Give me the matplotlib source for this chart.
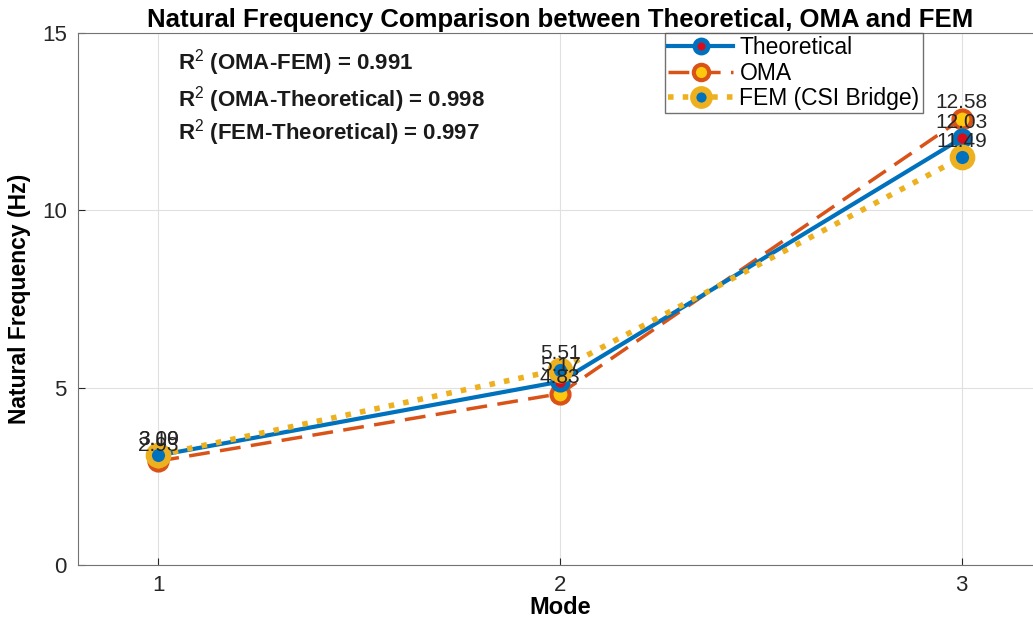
import matplotlib
matplotlib.use("Agg")
import matplotlib.pyplot as plt

modes = [1, 2, 3]
theoretical = [3.09, 5.17, 12.03]
oma = [2.93, 4.83, 12.58]
fem = [3.10, 5.51, 11.49]
r2_labels = ["R$^2$ (OMA-FEM) = 0.991",
             "R$^2$ (OMA-Theoretical) = 0.998",
             "R$^2$ (FEM-Theoretical) = 0.997"]

plt.rcParams['font.family'] = ['Liberation Sans', 'DejaVu Sans']
plt.rcParams['mathtext.fontset'] = 'custom'
plt.rcParams['mathtext.rm'] = 'Liberation Sans'
plt.rcParams['mathtext.bf'] = 'Liberation Sans:bold'

blue = (0.0, 0.447, 0.741)
orange = (0.85, 0.325, 0.098)
yellow = (0.929, 0.694, 0.125)
red = (0.85, 0.05, 0.1)

fig = plt.figure(figsize=(10.33, 6.19), dpi=100)
ax = fig.add_axes([78/1033, 54/619, (1042-78)/1033, (565-33)/619])

ax.plot(modes, theoretical, '-', color=blue, lw=3, marker='o', ms=11,
        mfc=red, mec=blue, mew=3.5, label='Theoretical', zorder=4)
ax.plot(modes, oma, '--', color=orange, lw=2.5, marker='o', ms=13,
        mfc=(1.0, 0.78, 0.05), mec=orange, mew=3, label='OMA', zorder=3,
        dashes=(6, 3))
ax.plot(modes, fem, ':', color=yellow, lw=4, marker='o', ms=14,
        mfc=blue, mec=yellow, mew=4.5, label='FEM (CSI Bridge)', zorder=5)

for series in (theoretical, oma, fem):
    for x, y in zip(modes, series):
        ax.text(x, y + 0.18, f"{y:.2f}", ha='center', va='bottom',
                fontsize=15, color=(0.15, 0.15, 0.15), zorder=6)

ax.set_xlim(0.8, 3.2)
ax.set_ylim(0, 15)
ax.set_xticks(modes)
ax.set_yticks([0, 5, 10, 15])
ax.grid(True, color=(0.88, 0.88, 0.88), lw=0.8)
ax.set_axisbelow(True)
ax.tick_params(direction='in', labelsize=16, colors=(0.15, 0.15, 0.15),
               length=5, pad=7)
ax.tick_params(axis='y', pad=8)
for s in ax.spines.values():
    s.set_color((0.45, 0.45, 0.45))

ax.set_xlabel('Mode', fontsize=17, fontweight='bold', labelpad=0)
ax.set_ylabel('Natural Frequency (Hz)', fontsize=16.5, fontweight='bold', labelpad=8)
ax.set_title('Natural Frequency Comparison between Theoretical, OMA and FEM',
             fontsize=18.5, fontweight='bold', pad=4)

ys = [14.18, 13.11, 12.18]
for t, y in zip(r2_labels, ys):
    ax.text(1.05, y, t, fontsize=16, fontweight='bold', va='center',
            color=(0.1, 0.1, 0.1))

leg = ax.legend(loc='upper left', bbox_to_anchor=(665/1033, 1 - 33/619),
                bbox_transform=fig.transFigure, fontsize=16.5, frameon=True,
                fancybox=False, edgecolor=(0.3, 0.3, 0.3), borderpad=0.15,
                handlelength=2.8, labelspacing=0.1, handletextpad=0.3,
                borderaxespad=0, markerscale=0.85)
leg.get_frame().set_linewidth(1.0)

fig.savefig('out.png', dpi=100)
